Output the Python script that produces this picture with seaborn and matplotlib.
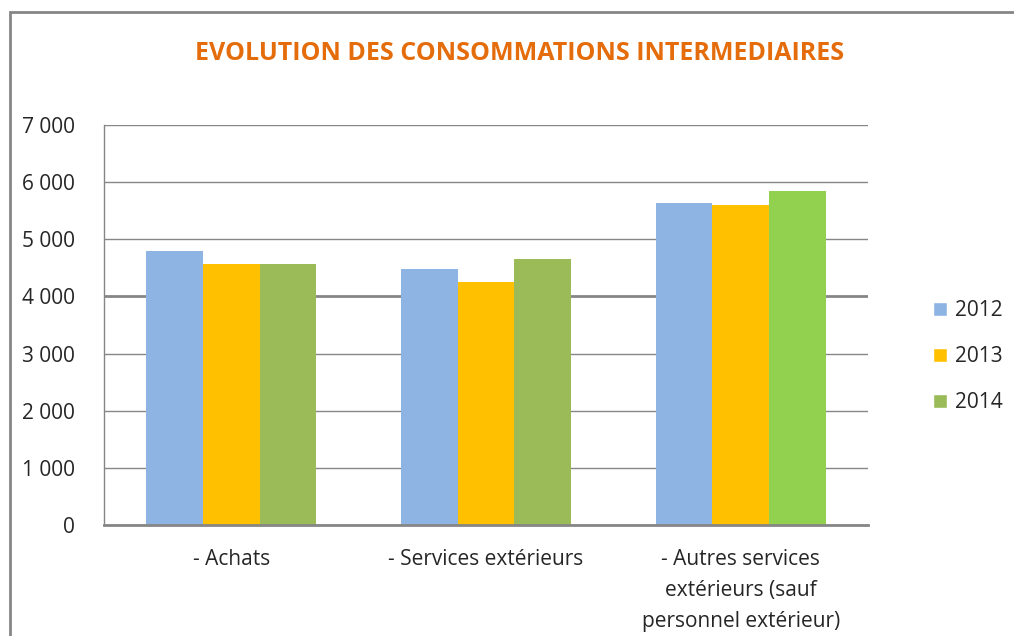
import matplotlib
matplotlib.use("Agg")
import matplotlib.pyplot as plt
from matplotlib.ticker import FuncFormatter
from matplotlib.patches import Rectangle, Patch
import seaborn as sns
import pandas as pd

# chart values
categories = ["- Achats", "- Services extérieurs",
              "- Autres services\nextérieurs (sauf\npersonnel extérieur)"]
years = ["2012", "2013", "2014"]
v2012 = [4800, 4480, 5635]
v2013 = [4570, 4250, 5600]
v2014 = [4570, 4655, 5845]
colors = ["#8EB4E3", "#FFC000", "#9BBB59"]

rows = []
for y, vals in zip(years, [v2012, v2013, v2014]):
    for c, v in zip(categories, vals):
        rows.append({"cat": c, "year": y, "value": v})
df = pd.DataFrame(rows)

sns.set_style("white")
plt.rcParams["font.family"] = ["Open Sans", "DejaVu Sans"]

fig = plt.figure(figsize=(10.14, 6.36), dpi=100)
ax = fig.add_axes([104 / 1014, 111 / 636, 764 / 1014, 400 / 636])

sns.barplot(data=df, x="cat", y="value", hue="year", palette=colors,
            width=0.667, gap=0, saturation=1, linewidth=0, ax=ax, legend=False)
# last bar is a brighter green in the original
ax.containers[2][2].set_facecolor("#92D050")

ax.set_ylim(0, 7000)
ax.set_xlim(-0.5, 2.5)
ax.set_yticks(range(0, 7001, 1000))
ax.yaxis.set_major_formatter(FuncFormatter(lambda v, p: f"{int(v):,}".replace(",", " ")))
ax.grid(axis="y", color="#868686", linewidth=1)
ax.set_axisbelow(True)
ax.get_ygridlines()[4].set_linewidth(2)
ax.set_xlabel("")
ax.set_ylabel("")
ax.tick_params(axis="y", length=0, pad=21, labelsize=15)
ax.tick_params(axis="x", length=0, pad=17, labelsize=15)
for lab in ax.get_xticklabels():
    lab.set_linespacing(1.65)

for s in ["top", "right"]:
    ax.spines[s].set_visible(False)
ax.spines["left"].set_color("#868686")
ax.spines["left"].set_linewidth(1)
ax.spines["bottom"].set_color("#868686")
ax.spines["bottom"].set_linewidth(2)

fig.text(0.512, 1 - 53 / 636, "EVOLUTION DES CONSOMMATIONS INTERMEDIAIRES",
         color="#E46C0A", fontsize=18, fontweight="bold", ha="center", va="center")

handles = [Patch(facecolor=c) for c in colors]
fig.legend(handles, years, loc="center left", bbox_to_anchor=(933 / 1014, 1 - 357 / 636),
           frameon=False, fontsize=15, handlelength=0.65, handleheight=0.65,
           handletextpad=0.4, labelspacing=1.2, borderpad=0, borderaxespad=0)

# outer chart frame, cut off at right and bottom like the screenshot
fig.patches.append(Rectangle((10 / 1014, -0.1), 1.2, 1.1 - 12 / 636,
                             transform=fig.transFigure, fill=False,
                             edgecolor="#868686", linewidth=2))

fig.savefig("out.png", dpi=100)
